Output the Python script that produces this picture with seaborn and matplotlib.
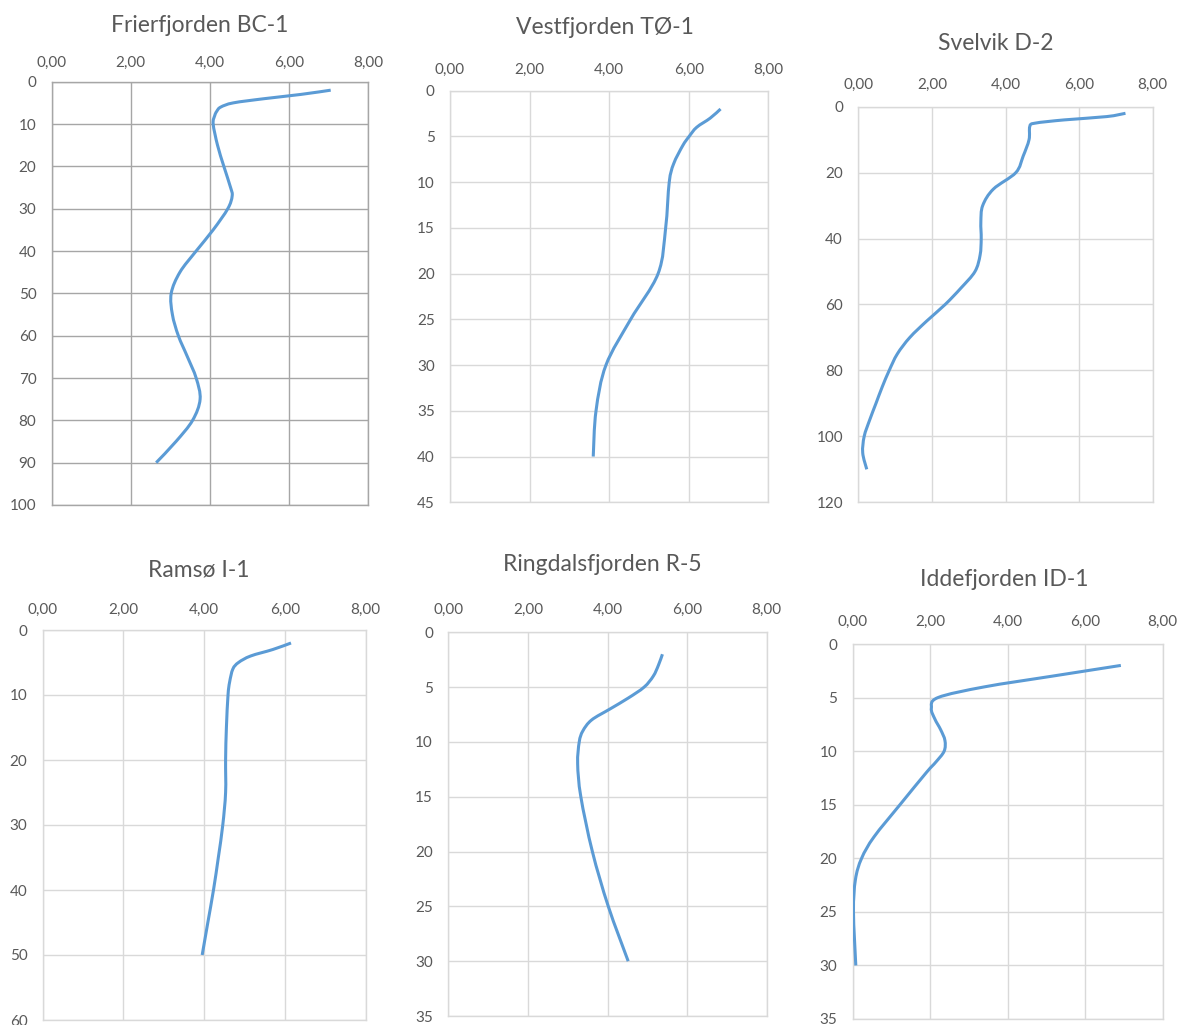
import numpy as np
import matplotlib
matplotlib.use("Agg")
import matplotlib.pyplot as plt
from matplotlib.path import Path
from matplotlib.patches import PathPatch
from matplotlib.ticker import FuncFormatter, MultipleLocator
import seaborn as sns

sns.set_theme(style="white")
plt.rcParams['font.family'] = ['Lato', 'DejaVu Sans']

# ---- profile data: value (x) against depth in metres (y) ----
frier_depth = [2, 3, 4, 5, 6, 7, 8, 10, 15, 20, 25, 27, 30, 35, 40, 45, 50, 55, 60, 65, 70, 75, 80, 85, 90]
frier_value = [7.05, 6.30, 5.38, 4.59, 4.27, 4.17, 4.12, 4.08, 4.19, 4.35, 4.52, 4.56, 4.45, 4.08, 3.65,
               3.24, 3.02, 3.05, 3.20, 3.43, 3.65, 3.75, 3.56, 3.14, 2.64]

vest_depth = [2, 3, 4, 5, 6, 8, 10, 15, 20, 25, 30, 35, 40]
vest_value = [6.80, 6.54, 6.20, 6.01, 5.85, 5.62, 5.51, 5.42, 5.23, 4.54, 3.92, 3.67, 3.60]

svel_depth = [2, 3, 4, 5, 6, 10, 15, 20, 25, 30, 35, 40, 45, 50, 55, 60, 65, 70, 75, 80, 85, 90, 95,
              100, 105, 110]
svel_value = [7.26, 6.75, 5.60, 4.80, 4.66, 4.64, 4.48, 4.28, 3.67, 3.38, 3.33, 3.34, 3.31, 3.17, 2.79,
              2.36, 1.86, 1.40, 1.06, 0.84, 0.65, 0.48, 0.31, 0.16, 0.12, 0.23]

rams_depth = [2, 3, 4, 5, 6, 8, 10, 15, 20, 25, 30, 35, 40, 45, 50]
rams_value = [6.15, 5.70, 5.15, 4.85, 4.71, 4.63, 4.59, 4.55, 4.53, 4.53, 4.46, 4.35, 4.23, 4.09, 3.95]

ring_depth = [2, 3, 4, 5, 6, 7, 8, 9, 10, 12, 15, 20, 25, 30]
ring_value = [5.38, 5.28, 5.15, 4.92, 4.52, 4.06, 3.60, 3.38, 3.29, 3.25, 3.33, 3.62, 4.02, 4.52]

idde_depth = [2, 3, 4, 5, 6, 7, 8, 9, 10, 11, 12, 15, 18, 20, 22, 25, 30]
idde_value = [6.92, 5.15, 3.40, 2.20, 2.03, 2.12, 2.27, 2.38, 2.36, 2.15, 1.90, 1.22, 0.55, 0.23, 0.07,
              0.02, 0.08]

titles = ["Frierfjorden BC-1", "Vestfjorden TØ-1", "Svelvik D-2",
          "Ramsø I-1", "Ringdalsfjorden R-5", "Iddefjorden ID-1"]

W, H = 1182, 1025
TEXT = "#595959"
LINE = "#5B9BD5"

# panel layout in pixels: (left, top, right, bottom), depth max, depth step,
# title centre x, title baseline y, x-label pad (pt), grid colour
panels = [
    ((51.7, 81.7, 368.3, 505.0), 100, 10, 200, 32.3, 8.3, "#A6A6A6", frier_value, frier_depth),
    ((450.0, 90.7, 768.3, 502.3), 45, 5, 605, 34.3, 9.9, "#D9D9D9", vest_value, vest_depth),
    ((858.3, 106.7, 1152.7, 502.3), 120, 20, 996, 50.0, 10.6, "#D9D9D9", svel_value, svel_depth),
    ((42.7, 630.0, 365.7, 1020.0), 60, 10, 199, 576.7, 9.2, "#D9D9D9", rams_value, rams_depth),
    ((448.3, 632.3, 766.7, 1016.0), 35, 5, 602, 571.0, 11.1, "#D9D9D9", ring_value, ring_depth),
    ((852.7, 644.0, 1162.7, 1019.0), 35, 5, 1004, 586.0, 10.6, "#D9D9D9", idde_value, idde_depth),
]


def smooth_path(x, y):
    """Cubic Bezier path through the points (cardinal spline, chart-style smoothing)."""
    pts = np.column_stack([x, y]).astype(float)
    n = len(pts)
    verts = [pts[0]]
    codes = [Path.MOVETO]
    for i in range(n - 1):
        p0 = pts[i - 1] if i > 0 else pts[i]
        p1 = pts[i]
        p2 = pts[i + 1]
        p3 = pts[i + 2] if i + 2 < n else pts[i + 1]
        verts += [p1 + (p2 - p0) / 6.0, p2 - (p3 - p1) / 6.0, p2]
        codes += [Path.CURVE4] * 3
    return Path(verts, codes)


fig = plt.figure(figsize=(W / 100, H / 100), dpi=100)
comma_fmt = FuncFormatter(lambda v, _: f"{v:.2f}".replace(".", ","))

for title, (box, ymax, ystep, tcx, tby, xpad, gcol, xs, ys) in zip(titles, panels):
    l, t, r, b = box
    ax = fig.add_axes([l / W, 1 - b / H, (r - l) / W, (b - t) / H])
    ax.set_xlim(0, 8)
    ax.set_ylim(ymax, 0)
    ax.xaxis.set_major_locator(MultipleLocator(2))
    ax.yaxis.set_major_locator(MultipleLocator(ystep))
    ax.xaxis.set_major_formatter(comma_fmt)
    ax.xaxis.tick_top()
    ax.tick_params(axis="x", length=0, pad=xpad, labelsize=11, colors=TEXT)
    ax.tick_params(axis="y", length=0, pad=11.0, labelsize=11, colors=TEXT)
    ax.grid(True, color=gcol, linewidth=1.0)
    for s in ax.spines.values():
        s.set_color(gcol)
        s.set_linewidth(1.0)
    ax.set_facecolor("white")
    ax.add_patch(PathPatch(smooth_path(xs, ys), facecolor="none", edgecolor=LINE,
                           linewidth=2.2, capstyle="butt", joinstyle="round", zorder=3))
    ax.set_xlabel("")
    ax.set_ylabel("")
    fig.text(tcx / W, 1 - tby / H, title, ha="center", va="baseline",
             fontsize=16.5, color=TEXT)

fig.savefig("out.png", dpi=100, facecolor="white")
